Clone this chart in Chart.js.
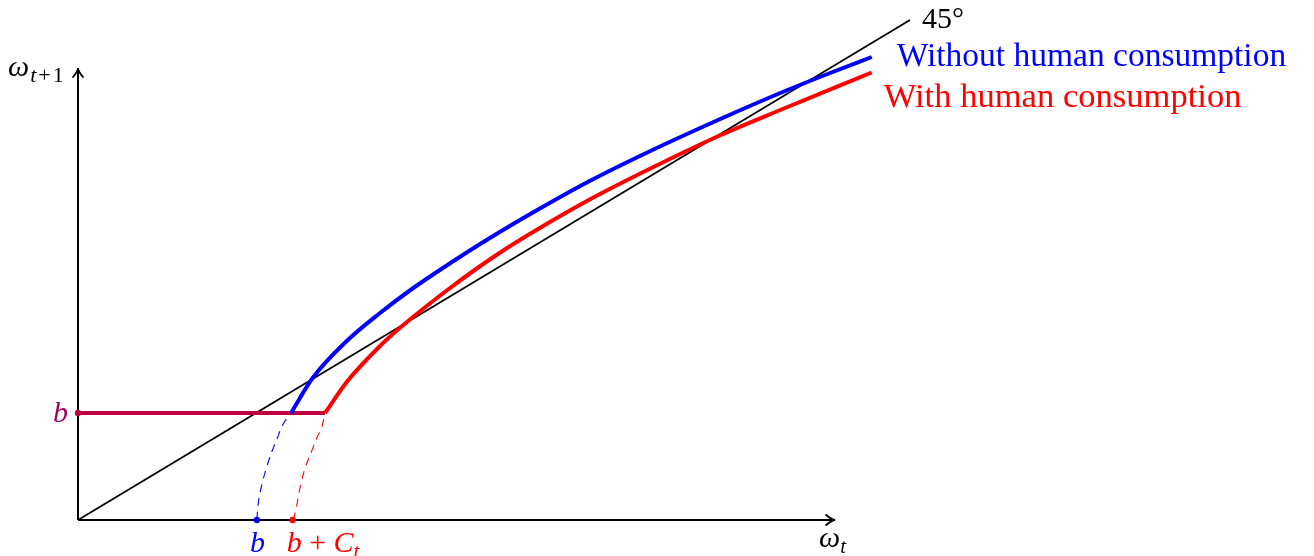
<!DOCTYPE html>
<html><head><meta charset="utf-8">
<script src="https://cdn.jsdelivr.net/npm/chart.js@4/dist/chart.umd.min.js"></script>
<style>html,body{margin:0;padding:0;background:#fff;}canvas{display:block;}</style>
</head><body>
<canvas id="c" width="1314" height="556"></canvas>
<script>
// ---- data (in axis units; the 45° line is y = x) ----
const bLevel = 2.14;
const blueX = [2.56, 2.82, 3.23, 3.63, 4.03, 4.44, 4.95, 5.52, 6.15, 6.88, 7.72, 8.47, 9.04, 9.54];
const blueY = [2.14, 2.84, 3.58, 4.14, 4.64, 5.10, 5.64, 6.20, 6.78, 7.38, 8.02, 8.56, 8.94, 9.26];
const redX  = [2.97, 3.23, 3.63, 3.91, 4.44, 4.81, 5.13, 5.52, 6.15, 6.88, 7.74, 8.47, 9.54];
const redY  = [2.14, 2.76, 3.48, 3.90, 4.60, 5.05, 5.41, 5.81, 6.41, 7.03, 7.71, 8.22, 8.95];
const blueDashX = [2.15, 2.16, 2.22, 2.27, 2.33, 2.39, 2.45, 2.56];
const blueDashY = [0.00, 0.23, 0.77, 1.07, 1.37, 1.61, 1.87, 2.14];
const redDashX  = [2.58, 2.61, 2.67, 2.73, 2.80, 2.87, 2.93, 2.97];
const redDashY  = [0.00, 0.14, 0.66, 1.04, 1.34, 1.64, 1.86, 2.14];
const diagX = [0, 10];
const diagY = [0, 10];
const xAxisEnd = 9.1;
const yAxisEnd = 9.04;
const blueFoot = 2.15;
const redFoot = 2.58;
const bLineEnd = 2.97;

const zip = (xs, ys) => xs.map((x, i) => ({x: x, y: ys[i]}));

const BLUE = '#0000ff', RED = '#ff0000', PURPLE = '#bf0040', PURPLE_TXT = '#a0005c';
const SERIF = "'Liberation Serif', 'DejaVu Serif', serif";

function rich(ctx, x, y, parts, color) {
  ctx.save();
  ctx.fillStyle = color;
  ctx.textBaseline = 'alphabetic';
  ctx.textAlign = 'left';
  let cx = x;
  for (const p of parts) {
    ctx.font = (p.it ? 'italic ' : '') + p.s + 'px ' + SERIF;
    ctx.fillText(p.t, cx, y + (p.dy || 0));
    cx += ctx.measureText(p.t).width + (p.gap || 0);
  }
  ctx.restore();
}

function arrow(ctx, tx, ty, dirx, diry) {
  const L = 9, W = 5;
  const px = -diry, py = dirx;
  ctx.save();
  ctx.strokeStyle = '#000';
  ctx.lineWidth = 1.8;
  ctx.lineCap = 'round';
  ctx.beginPath();
  ctx.moveTo(tx - dirx * L + px * W, ty - diry * L + py * W);
  ctx.quadraticCurveTo(tx - dirx * 3, ty - diry * 3, tx, ty);
  ctx.quadraticCurveTo(tx - dirx * 3, ty - diry * 3, tx - dirx * L - px * W, ty - diry * L - py * W);
  ctx.stroke();
  ctx.restore();
}

const annot = {
  id: 'annot',
  afterDatasetsDraw(chart) {
    const ctx = chart.ctx, xs = chart.scales.x, ys = chart.scales.y;
    const X = v => xs.getPixelForValue(v), Y = v => ys.getPixelForValue(v);
    arrow(ctx, X(xAxisEnd), Y(0), 1, 0);
    arrow(ctx, X(0), Y(yAxisEnd), 0, -1);
    rich(ctx, X(0) - 70, Y(yAxisEnd) + 8, [
      {t: 'ω', s: 30, it: true, gap: 1}, {t: 't', s: 22, it: true, dy: 6, gap: 2},
      {t: '+', s: 22, dy: 6, gap: 2}, {t: '1', s: 22, dy: 6}], '#000');
    rich(ctx, X(xAxisEnd) - 16, Y(0) + 27, [
      {t: 'ω', s: 30, it: true}, {t: 't', s: 21, it: true, dy: 6}], '#000');
    rich(ctx, X(10) + 12, Y(10) + 8, [{t: '45°', s: 30}], '#000');
    rich(ctx, X(blueX[blueX.length - 1]) + 25, Y(blueY[blueY.length - 1]) + 9,
      [{t: 'Without human consumption', s: 33.5}], BLUE);
    rich(ctx, X(redX[redX.length - 1]) + 12, Y(redY[redY.length - 1]) + 34,
      [{t: 'With human consumption', s: 34.6}], RED);
    rich(ctx, X(0) - 25, Y(bLevel) + 9, [{t: 'b', s: 30, it: true}], PURPLE_TXT);
    rich(ctx, X(blueFoot) - 7, Y(0) + 32, [{t: 'b', s: 30, it: true}], BLUE);
    rich(ctx, X(redFoot) - 6, Y(0) + 32, [
      {t: 'b', s: 30, it: true}, {t: ' + ', s: 30}, {t: 'C', s: 30, it: true},
      {t: 't', s: 21, it: true, dy: 6}], RED);
  }
};

const line = (data, color, width, extra) => Object.assign({
  type: 'line', data: data, borderColor: color, backgroundColor: color,
  borderWidth: width, pointRadius: 0, fill: false, tension: 0, clip: false
}, extra || {});

new Chart(document.getElementById('c'), {
  type: 'line',
  data: {
    datasets: [
      line([{x: 0, y: bLevel}, {x: blueFoot, y: 0}, {x: redFoot, y: 0}], PURPLE, 0,
        {showLine: false, pointRadius: 3.2,
         pointBackgroundColor: [PURPLE, BLUE, RED], pointBorderWidth: 0, order: 0}),
      line(zip(blueX, blueY), BLUE, 4, {cubicInterpolationMode: 'monotone', order: 1}),
      line(zip(redX, redY), RED, 4, {cubicInterpolationMode: 'monotone', order: 2}),
      line([{x: 0, y: bLevel}, {x: bLineEnd, y: bLevel}], PURPLE, 4, {order: 3}),
      line(zip(blueDashX, blueDashY), BLUE, 1.1, {cubicInterpolationMode: 'monotone', borderDash: [8, 6], order: 4}),
      line(zip(redDashX, redDashY), RED, 1.1, {cubicInterpolationMode: 'monotone', borderDash: [8, 6], order: 5}),
      line(zip(diagX, diagY), '#000', 1.8, {order: 6}),
      line([{x: 0, y: 0}, {x: xAxisEnd, y: 0}], '#000', 2, {order: 7}),
      line([{x: 0, y: 0}, {x: 0, y: yAxisEnd}], '#000', 2, {order: 8})
    ]
  },
  options: {
    responsive: false,
    animation: false,
    layout: {padding: {left: 78, right: 404, top: 20, bottom: 36}},
    scales: {
      x: {type: 'linear', min: 0, max: 10, display: false},
      y: {type: 'linear', min: 0, max: 10, display: false}
    },
    plugins: {legend: {display: false}, tooltip: {enabled: false}}
  },
  plugins: [annot]
});
</script>
</body></html>
